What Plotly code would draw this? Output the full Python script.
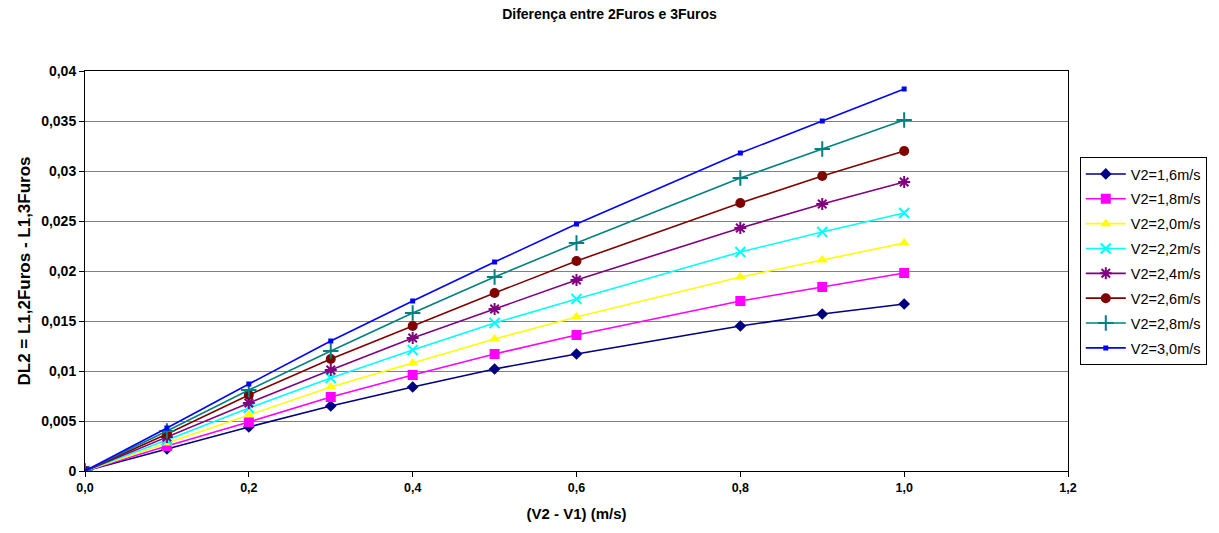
import plotly.graph_objects as go

# Velocity difference (V2 - V1), m/s
dv = [0.0, 0.1, 0.2, 0.3, 0.4, 0.5, 0.6, 0.8, 0.9, 1.0]

# DL2 = L1,2Furos - L1,3Furos for each V2
v16 = [0.0, 0.0022, 0.0044, 0.0065, 0.0084, 0.0102, 0.0117, 0.0145, 0.0157, 0.0167]
v18 = [0.0, 0.0025, 0.0049, 0.0074, 0.0096, 0.0117, 0.0136, 0.0170, 0.0184, 0.0198]
v20 = [0.0, 0.0028, 0.0056, 0.0084, 0.0108, 0.0132, 0.0154, 0.0194, 0.0211, 0.0228]
v22 = [0.0, 0.0031, 0.0063, 0.0093, 0.0121, 0.0148, 0.0172, 0.0219, 0.0239, 0.0258]
v24 = [0.0, 0.0034, 0.0068, 0.0101, 0.0133, 0.0162, 0.0191, 0.0243, 0.0267, 0.0289]
v26 = [0.0, 0.0037, 0.0076, 0.0112, 0.0145, 0.0178, 0.0210, 0.0268, 0.0295, 0.0320]
v28 = [0.0, 0.0040, 0.0081, 0.0120, 0.0158, 0.0194, 0.0228, 0.0293, 0.0322, 0.0351]
v30 = [0.0, 0.0043, 0.0087, 0.0130, 0.0170, 0.0209, 0.0247, 0.0318, 0.0350, 0.0382]

names = ["V2=1,6m/s", "V2=1,8m/s", "V2=2,0m/s", "V2=2,2m/s",
         "V2=2,4m/s", "V2=2,6m/s", "V2=2,8m/s", "V2=3,0m/s"]
series = [v16, v18, v20, v22, v24, v26, v28, v30]

x_tickvals = [0.0, 0.2, 0.4, 0.6, 0.8, 1.0, 1.2]
x_ticktext = ["0,0", "0,2", "0,4", "0,6", "0,8", "1,0", "1,2"]
y_tickvals = [0, 0.005, 0.01, 0.015, 0.02, 0.025, 0.03, 0.035, 0.04]
y_ticktext = ["0", "0,005", "0,01", "0,015", "0,02", "0,025", "0,03", "0,035", "0,04"]

colors = ["#000080", "#FF00FF", "#FFFF00", "#00FFFF",
          "#800080", "#800000", "#008080", "#0000FF"]
symbols = ["diamond", "square", "triangle-up", "x-thin",
           "asterisk", "circle", "cross-thin", "square"]
sizes = [9, 10, 10, 10, 10, 10, 11, 5]

fig = go.Figure()
for name, ys, c, s, sz in zip(names, series, colors, symbols, sizes):
    marker = dict(symbol=s, size=sz, color=c, line=dict(width=0, color=c))
    if s in ("x-thin", "asterisk", "cross-thin"):
        marker["line"] = dict(width=2, color=c)
    fig.add_trace(go.Scatter(
        x=dv, y=ys, name=name, mode="lines+markers",
        line=dict(color=c, width=1.6), marker=marker,
        legendgroup=name,
    ))

font_family = "Liberation Sans, Arial, sans-serif"

fig.update_layout(
    width=1219, height=533,
    paper_bgcolor="white", plot_bgcolor="white",
    margin=dict(l=85, r=148, t=71, b=62),
    title=dict(text="Diferença entre 2Furos e 3Furos",
               x=0.5, xanchor="center", y=0.982, yanchor="top",
               font=dict(family=font_family, size=14, color="black", weight="bold")),
    font=dict(family=font_family, color="black"),
    showlegend=True,
    legend=dict(x=1.012, xanchor="left", y=0.785, yanchor="top",
                bordercolor="black", borderwidth=1, bgcolor="white",
                font=dict(family=font_family, size=14.5, color="black"),
                tracegroupgap=3, itemwidth=40),
    xaxis=dict(range=[0, 1.2], tickvals=x_tickvals, ticktext=x_ticktext,
               showgrid=False, zeroline=False,
               showline=True, linecolor="black", linewidth=1, mirror=True,
               ticks="outside", ticklen=5, tickcolor="black",
               tickfont=dict(family=font_family, size=12.5, color="black", weight="bold"),
               title=dict(text="(V2 - V1) (m/s)", standoff=14,
                          font=dict(family=font_family, size=15, color="black", weight="bold"))),
    yaxis=dict(range=[0, 0.04], tickvals=y_tickvals, ticktext=y_ticktext,
               showgrid=True, gridcolor="#808080", gridwidth=1, zeroline=False,
               showline=True, linecolor="black", linewidth=1, mirror=True,
               ticks="outside", ticklen=5, tickcolor="black",
               tickfont=dict(family=font_family, size=14, color="black", weight="bold"),
               title=dict(text="DL2 = L1,2Furos - L1,3Furos", standoff=6,
                          font=dict(family=font_family, size=17, color="black", weight="bold"))),
)

fig.write_html("out.html")
